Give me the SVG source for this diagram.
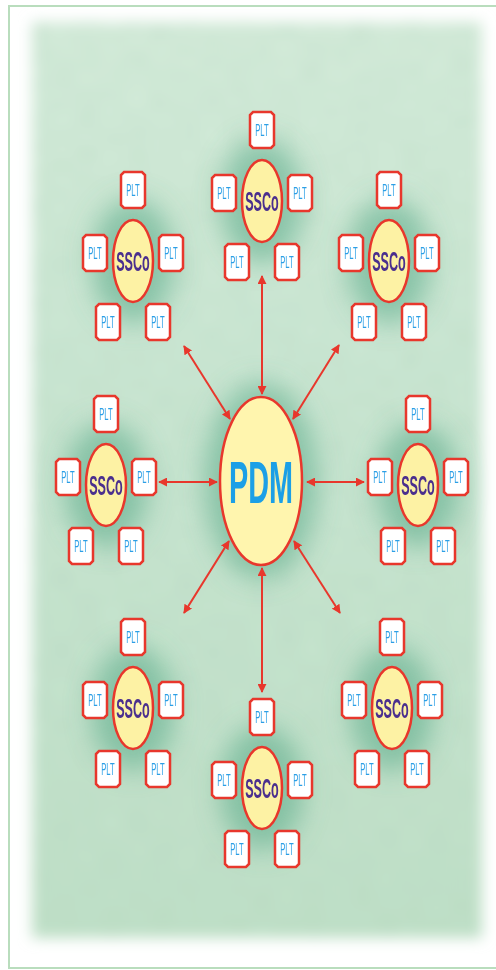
<svg xmlns="http://www.w3.org/2000/svg" width="496" height="970" viewBox="0 0 496 970">
  <defs>
    <style>
      .plt-box { fill: #ffffff; stroke: #e8372c; stroke-width: 2.5; }
      .plt-txt { font-family: "Liberation Sans", Arial, sans-serif; font-size: 17px; fill: #2c9fe6; text-anchor: middle; }
      .ssco-shape { fill: #fdf2a4; stroke: #e8372c; stroke-width: 2.5; }
      .ssco-txt { font-family: "Liberation Sans", Arial, sans-serif; font-size: 28px; font-weight: bold; fill: #4a2f8e; text-anchor: middle; }
      .pdm-shape { fill: #fff5ae; stroke: #e8372c; stroke-width: 2.5; }
      .pdm-txt { font-family: "Liberation Sans", Arial, sans-serif; font-size: 60px; font-weight: bold; fill: #1c9fe6; text-anchor: middle; }
      .link { stroke: #e8372c; stroke-width: 2; fill: none; marker-start: url(#tip); marker-end: url(#tip); }
      .halo { fill: #5eae8c; opacity: 0.6; }
    </style>
    <marker id="tip" viewBox="0 0 10 10" refX="9" refY="5" markerWidth="4.5" markerHeight="4.5" orient="auto-start-reverse" markerUnits="strokeWidth">
      <path d="M0,0 L10,5 L0,10 z" fill="#e8372c"/>
    </marker>
    <!-- soft edge for the grass panel -->
    <filter id="soft" x="-10%" y="-10%" width="120%" height="120%">
      <feGaussianBlur stdDeviation="7"/>
    </filter>
    <filter id="glow" x="-60%" y="-60%" width="220%" height="220%">
      <feGaussianBlur stdDeviation="13"/>
    </filter>
    <!-- faint grass grain -->
    <filter id="grain" x="0" y="0" width="100%" height="100%">
      <feTurbulence type="fractalNoise" baseFrequency="0.04 0.25" numOctaves="3" seed="7" result="n"/>
      <feColorMatrix in="n" type="matrix" values="0 0 0 0 0.45  0 0 0 0 0.65  0 0 0 0 0.5  0 0 0 1.2 -0.45" result="c"/>
      <feComposite in="c" in2="SourceGraphic" operator="in" result="t"/>
      <feGaussianBlur in="t" stdDeviation="0.8" result="tb"/>
      <feMerge><feMergeNode in="SourceGraphic"/><feMergeNode in="tb"/></feMerge>
    </filter>
    <linearGradient id="grass" x1="0" y1="0" x2="0" y2="1">
      <stop offset="0" stop-color="#d5ecdb"/>
      <stop offset="0.5" stop-color="#c8e5d1"/>
      <stop offset="1" stop-color="#c0e1c8"/>
    </linearGradient>
    <path id="plt" d="M-9,-18 L9,-18 L12,-15 L12,15 L9,18 L-9,18 L-12,15 L-12,-15 z"/>
  </defs>

  <!-- page and frame -->
  <rect x="0" y="0" width="496" height="970" fill="#ffffff"/>
  <rect x="9" y="6" width="492" height="962" fill="#ffffff" stroke="#b9ddbd" stroke-width="2"/>

  <!-- grass panel -->
  <g id="backdrop">
    <g filter="url(#soft)">
      <rect x="32" y="22" width="450" height="916" fill="url(#grass)" filter="url(#grain)"/>
    </g>
    <g filter="url(#glow)">
      <ellipse class="halo" cx="262" cy="201" rx="42" ry="62"/>
      <ellipse class="halo" cx="133" cy="261" rx="42" ry="62"/>
      <ellipse class="halo" cx="389" cy="261" rx="42" ry="62"/>
      <ellipse class="halo" cx="106" cy="485" rx="42" ry="62"/>
      <ellipse class="halo" cx="418" cy="485" rx="42" ry="62"/>
      <ellipse class="halo" cx="133" cy="708" rx="42" ry="62"/>
      <ellipse class="halo" cx="392" cy="708" rx="42" ry="62"/>
      <ellipse class="halo" cx="262" cy="788" rx="42" ry="62"/>
      <ellipse class="halo" cx="261" cy="481" rx="56" ry="98"/>
    </g>
  </g>

  <!-- connectors -->
  <g id="connectors">
    <line class="link" x1="262" y1="276" x2="262" y2="394"/>
    <line class="link" x1="262" y1="568" x2="262" y2="692"/>
    <line class="link" x1="184" y1="346" x2="230" y2="419"/>
    <line class="link" x1="339" y1="345" x2="293" y2="419"/>
    <line class="link" x1="159" y1="482" x2="217" y2="482"/>
    <line class="link" x1="307" y1="482" x2="364" y2="482"/>
    <line class="link" x1="229" y1="541" x2="184" y2="613"/>
    <line class="link" x1="294" y1="541" x2="340" y2="613"/>
  </g>

  <!-- central node -->
  <g id="pdm">
    <ellipse class="pdm-shape" cx="261" cy="481" rx="41" ry="84"/>
    <text class="pdm-txt" transform="translate(261,503) scale(0.48,1)" x="0" y="0">PDM</text>
  </g>

  <!-- SSCo clusters: each centre with its five PLT nodes -->
  <g id="ssco-top" transform="translate(262,201)">
    <ellipse class="ssco-shape" cx="0" cy="0" rx="20" ry="41"/>
    <text class="ssco-txt" transform="translate(0,10) scale(0.45,1)">SSCo</text>
    <g id="plt-top-1" transform="translate(0,-71)"><use href="#plt" class="plt-box"/><text class="plt-txt" transform="translate(0,6) scale(0.45,1)">PLT</text></g>
    <g id="plt-top-2" transform="translate(-38,-8)"><use href="#plt" class="plt-box"/><text class="plt-txt" transform="translate(0,6) scale(0.45,1)">PLT</text></g>
    <g id="plt-top-3" transform="translate(38,-8)"><use href="#plt" class="plt-box"/><text class="plt-txt" transform="translate(0,6) scale(0.45,1)">PLT</text></g>
    <g id="plt-top-4" transform="translate(-25,61)"><use href="#plt" class="plt-box"/><text class="plt-txt" transform="translate(0,6) scale(0.45,1)">PLT</text></g>
    <g id="plt-top-5" transform="translate(25,61)"><use href="#plt" class="plt-box"/><text class="plt-txt" transform="translate(0,6) scale(0.45,1)">PLT</text></g>
  </g>

  <g id="ssco-upper-left" transform="translate(133,261)">
    <ellipse class="ssco-shape" cx="0" cy="0" rx="20" ry="41"/>
    <text class="ssco-txt" transform="translate(0,10) scale(0.45,1)">SSCo</text>
    <g id="plt-ul-1" transform="translate(0,-71)"><use href="#plt" class="plt-box"/><text class="plt-txt" transform="translate(0,6) scale(0.45,1)">PLT</text></g>
    <g id="plt-ul-2" transform="translate(-38,-8)"><use href="#plt" class="plt-box"/><text class="plt-txt" transform="translate(0,6) scale(0.45,1)">PLT</text></g>
    <g id="plt-ul-3" transform="translate(38,-8)"><use href="#plt" class="plt-box"/><text class="plt-txt" transform="translate(0,6) scale(0.45,1)">PLT</text></g>
    <g id="plt-ul-4" transform="translate(-25,61)"><use href="#plt" class="plt-box"/><text class="plt-txt" transform="translate(0,6) scale(0.45,1)">PLT</text></g>
    <g id="plt-ul-5" transform="translate(25,61)"><use href="#plt" class="plt-box"/><text class="plt-txt" transform="translate(0,6) scale(0.45,1)">PLT</text></g>
  </g>

  <g id="ssco-upper-right" transform="translate(389,261)">
    <ellipse class="ssco-shape" cx="0" cy="0" rx="20" ry="41"/>
    <text class="ssco-txt" transform="translate(0,10) scale(0.45,1)">SSCo</text>
    <g id="plt-ur-1" transform="translate(0,-71)"><use href="#plt" class="plt-box"/><text class="plt-txt" transform="translate(0,6) scale(0.45,1)">PLT</text></g>
    <g id="plt-ur-2" transform="translate(-38,-8)"><use href="#plt" class="plt-box"/><text class="plt-txt" transform="translate(0,6) scale(0.45,1)">PLT</text></g>
    <g id="plt-ur-3" transform="translate(38,-8)"><use href="#plt" class="plt-box"/><text class="plt-txt" transform="translate(0,6) scale(0.45,1)">PLT</text></g>
    <g id="plt-ur-4" transform="translate(-25,61)"><use href="#plt" class="plt-box"/><text class="plt-txt" transform="translate(0,6) scale(0.45,1)">PLT</text></g>
    <g id="plt-ur-5" transform="translate(25,61)"><use href="#plt" class="plt-box"/><text class="plt-txt" transform="translate(0,6) scale(0.45,1)">PLT</text></g>
  </g>

  <g id="ssco-left" transform="translate(106,485)">
    <ellipse class="ssco-shape" cx="0" cy="0" rx="20" ry="41"/>
    <text class="ssco-txt" transform="translate(0,10) scale(0.45,1)">SSCo</text>
    <g id="plt-l-1" transform="translate(0,-71)"><use href="#plt" class="plt-box"/><text class="plt-txt" transform="translate(0,6) scale(0.45,1)">PLT</text></g>
    <g id="plt-l-2" transform="translate(-38,-8)"><use href="#plt" class="plt-box"/><text class="plt-txt" transform="translate(0,6) scale(0.45,1)">PLT</text></g>
    <g id="plt-l-3" transform="translate(38,-8)"><use href="#plt" class="plt-box"/><text class="plt-txt" transform="translate(0,6) scale(0.45,1)">PLT</text></g>
    <g id="plt-l-4" transform="translate(-25,61)"><use href="#plt" class="plt-box"/><text class="plt-txt" transform="translate(0,6) scale(0.45,1)">PLT</text></g>
    <g id="plt-l-5" transform="translate(25,61)"><use href="#plt" class="plt-box"/><text class="plt-txt" transform="translate(0,6) scale(0.45,1)">PLT</text></g>
  </g>

  <g id="ssco-right" transform="translate(418,485)">
    <ellipse class="ssco-shape" cx="0" cy="0" rx="20" ry="41"/>
    <text class="ssco-txt" transform="translate(0,10) scale(0.45,1)">SSCo</text>
    <g id="plt-r-1" transform="translate(0,-71)"><use href="#plt" class="plt-box"/><text class="plt-txt" transform="translate(0,6) scale(0.45,1)">PLT</text></g>
    <g id="plt-r-2" transform="translate(-38,-8)"><use href="#plt" class="plt-box"/><text class="plt-txt" transform="translate(0,6) scale(0.45,1)">PLT</text></g>
    <g id="plt-r-3" transform="translate(38,-8)"><use href="#plt" class="plt-box"/><text class="plt-txt" transform="translate(0,6) scale(0.45,1)">PLT</text></g>
    <g id="plt-r-4" transform="translate(-25,61)"><use href="#plt" class="plt-box"/><text class="plt-txt" transform="translate(0,6) scale(0.45,1)">PLT</text></g>
    <g id="plt-r-5" transform="translate(25,61)"><use href="#plt" class="plt-box"/><text class="plt-txt" transform="translate(0,6) scale(0.45,1)">PLT</text></g>
  </g>

  <g id="ssco-lower-left" transform="translate(133,708)">
    <ellipse class="ssco-shape" cx="0" cy="0" rx="20" ry="41"/>
    <text class="ssco-txt" transform="translate(0,10) scale(0.45,1)">SSCo</text>
    <g id="plt-ll-1" transform="translate(0,-71)"><use href="#plt" class="plt-box"/><text class="plt-txt" transform="translate(0,6) scale(0.45,1)">PLT</text></g>
    <g id="plt-ll-2" transform="translate(-38,-8)"><use href="#plt" class="plt-box"/><text class="plt-txt" transform="translate(0,6) scale(0.45,1)">PLT</text></g>
    <g id="plt-ll-3" transform="translate(38,-8)"><use href="#plt" class="plt-box"/><text class="plt-txt" transform="translate(0,6) scale(0.45,1)">PLT</text></g>
    <g id="plt-ll-4" transform="translate(-25,61)"><use href="#plt" class="plt-box"/><text class="plt-txt" transform="translate(0,6) scale(0.45,1)">PLT</text></g>
    <g id="plt-ll-5" transform="translate(25,61)"><use href="#plt" class="plt-box"/><text class="plt-txt" transform="translate(0,6) scale(0.45,1)">PLT</text></g>
  </g>

  <g id="ssco-lower-right" transform="translate(392,708)">
    <ellipse class="ssco-shape" cx="0" cy="0" rx="20" ry="41"/>
    <text class="ssco-txt" transform="translate(0,10) scale(0.45,1)">SSCo</text>
    <g id="plt-lr-1" transform="translate(0,-71)"><use href="#plt" class="plt-box"/><text class="plt-txt" transform="translate(0,6) scale(0.45,1)">PLT</text></g>
    <g id="plt-lr-2" transform="translate(-38,-8)"><use href="#plt" class="plt-box"/><text class="plt-txt" transform="translate(0,6) scale(0.45,1)">PLT</text></g>
    <g id="plt-lr-3" transform="translate(38,-8)"><use href="#plt" class="plt-box"/><text class="plt-txt" transform="translate(0,6) scale(0.45,1)">PLT</text></g>
    <g id="plt-lr-4" transform="translate(-25,61)"><use href="#plt" class="plt-box"/><text class="plt-txt" transform="translate(0,6) scale(0.45,1)">PLT</text></g>
    <g id="plt-lr-5" transform="translate(25,61)"><use href="#plt" class="plt-box"/><text class="plt-txt" transform="translate(0,6) scale(0.45,1)">PLT</text></g>
  </g>

  <g id="ssco-bottom" transform="translate(262,788)">
    <ellipse class="ssco-shape" cx="0" cy="0" rx="20" ry="41"/>
    <text class="ssco-txt" transform="translate(0,10) scale(0.45,1)">SSCo</text>
    <g id="plt-b-1" transform="translate(0,-71)"><use href="#plt" class="plt-box"/><text class="plt-txt" transform="translate(0,6) scale(0.45,1)">PLT</text></g>
    <g id="plt-b-2" transform="translate(-38,-8)"><use href="#plt" class="plt-box"/><text class="plt-txt" transform="translate(0,6) scale(0.45,1)">PLT</text></g>
    <g id="plt-b-3" transform="translate(38,-8)"><use href="#plt" class="plt-box"/><text class="plt-txt" transform="translate(0,6) scale(0.45,1)">PLT</text></g>
    <g id="plt-b-4" transform="translate(-25,61)"><use href="#plt" class="plt-box"/><text class="plt-txt" transform="translate(0,6) scale(0.45,1)">PLT</text></g>
    <g id="plt-b-5" transform="translate(25,61)"><use href="#plt" class="plt-box"/><text class="plt-txt" transform="translate(0,6) scale(0.45,1)">PLT</text></g>
  </g>
</svg>
